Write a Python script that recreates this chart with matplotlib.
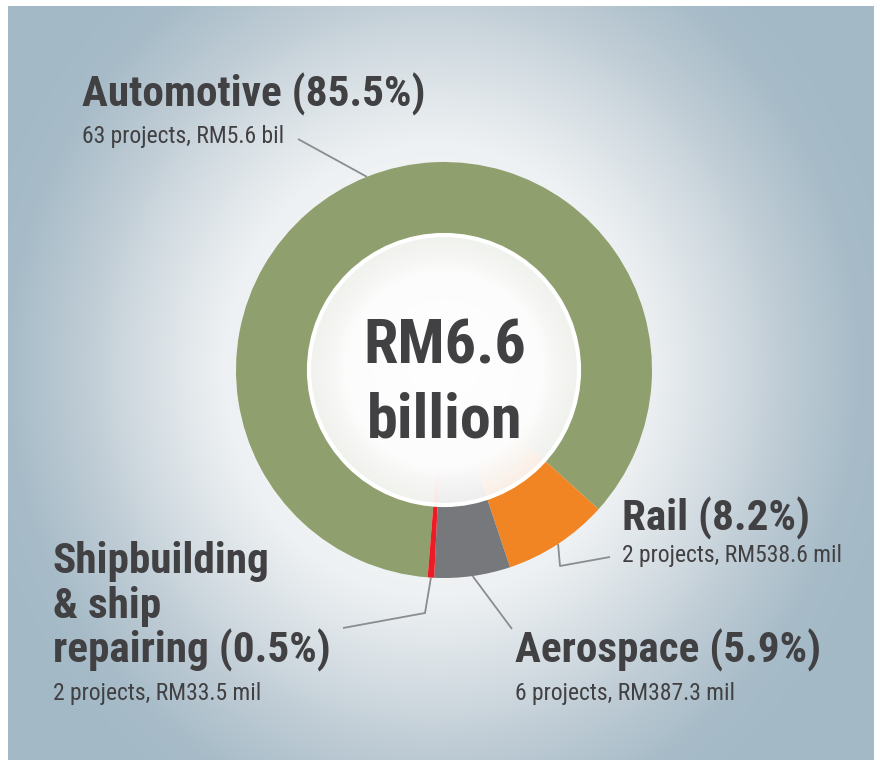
import numpy as np
import matplotlib
matplotlib.use('Agg')
import matplotlib.pyplot as plt
from matplotlib.patches import Circle
from matplotlib.colors import to_rgb
from matplotlib import font_manager as fm

# ---------------- data ----------------
sectors = ['Automotive', 'Rail', 'Aerospace', 'Shipbuilding\n& ship\nrepairing']
shares = [85.5, 8.2, 5.9, 0.5]
projects = [63, 2, 6, 2]
amounts = ['RM5.6 bil', 'RM538.6 mil', 'RM387.3 mil', 'RM33.5 mil']
total_label = ['RM6.6', 'billion']

# ---------------- style / layout ----------------
colors = ['#8F9F6E', '#F28523', '#77787B', '#ED1C24']
TEXT = '#414042'
LINE = '#8A8C8F'

W, H = 874, 760
fig = plt.figure(figsize=(W / 100, H / 100), dpi=100)
fig.patch.set_facecolor('white')
ax = fig.add_axes([0, 0, 1, 1])
renderer = fig.canvas.get_renderer()


# ---- choose the narrowest suitable installed font ----
def _w(f):
    w = f.weight
    if isinstance(w, str):
        w = fm.weight_dict.get(w, 400)
    return w


PREF = ['liberation sans narrow', 'roboto condensed', 'open sans condensed',
        'noto sans condensed', 'noto sans', 'dejavu sans condensed', 'dejavu sans',
        'open sans', 'roboto']


def pick_font(bold):
    best, best_score = None, None
    for f in fm.fontManager.ttflist:
        nm = f.name.lower()
        st = str(f.stretch).lower()
        cond = ('narrow' in nm or 'condensed' in nm or 'condensed' in st
                or 'narrow' in st)
        if not cond or f.style != 'normal':
            continue
        if 'extra' in st or 'ultra' in st or 'semi' in st:
            continue
        w = _w(f)
        if bold and w < 600:
            continue
        if not bold and not (350 <= w <= 450):
            continue
        rank = next((i for i, p in enumerate(PREF) if nm.startswith(p)), 50)
        score = (rank, abs(w - (700 if bold else 400)))
        if best_score is None or score < best_score:
            best, best_score = f, score
    if best is not None:
        return fm.FontProperties(fname=best.fname)
    fam = ['Roboto', 'Liberation Sans', 'DejaVu Sans']
    return fm.FontProperties(family=fam, weight='bold' if bold else 'normal')


FB = pick_font(True)
FR = pick_font(False)


def fit(strings, targets, prop, max_size):
    sizes = []
    for s, t in zip(strings, targets):
        p = prop.copy()
        p.set_size(100)
        w, _, _ = renderer.get_text_width_height_descent(s, p, ismath=False)
        sizes.append(100 * t / w)
    return min(max_size, float(np.median(sizes)))


def Y(y):
    return H - y


cx, cy = 444, 370
R_out, R_in = 208, 135

# background radial gradient (white strip on left and top)
yy, xx = np.mgrid[6:H, 8:W]
rr = np.hypot(xx + 0.5 - (cx - 10), (yy + 0.5 - cy) / 1.08)
stops_r = [0, 210, 280, 350, 425, 480]
stops_c = ['#FFFFFF', '#EEF1F3', '#D8E0E5', '#BFCCD5', '#A7BCC8', '#A3B9C6']
rgb = np.array([to_rgb(c) for c in stops_c])
bg = np.stack([np.interp(rr, stops_r, rgb[:, k]) for k in range(3)], axis=-1)
ax.imshow(bg, extent=[8, W, Y(H), Y(6)], origin='upper',
          interpolation='bilinear', zorder=0)

# donut
wedges, _ = ax.pie(shares, colors=colors, startangle=265.5, counterclock=False,
                   radius=R_out, center=(cx, Y(cy)), frame=True,
                   wedgeprops=dict(width=R_out - 60, edgecolor='none', linewidth=0))
for w in wedges:
    w.set_zorder(2)

# translucent white centre disc
n = 400
g = np.linspace(-R_in, R_in, n)
gx, gy = np.meshgrid(g, g)
rd = np.hypot(gx, gy)
ov = np.ones((n, n, 4))
ov[..., :3] = np.interp(rd, [0, R_in], [1.0, 0.985])[..., None]
ov[..., 3] = np.interp(rd, [0, 100, R_in], [1.0, 1.0, 0.9])
im = ax.imshow(ov, extent=[cx - R_in, cx + R_in, Y(cy) - R_in, Y(cy) + R_in],
               interpolation='bilinear', zorder=3)
im.set_clip_path(Circle((cx, Y(cy)), R_in, transform=ax.transData))
ax.add_patch(Circle((cx, Y(cy)), R_in, fill=False, edgecolor='white',
                    lw=3, zorder=4))

# label strings
titles = []
for i, name in enumerate(sectors):
    lines = name.split('\n')
    lines[-1] = f'{lines[-1]} ({shares[i]}%)'
    titles.append(lines)
subs = [f'{projects[i]} projects, {amounts[i]}' for i in range(len(sectors))]

# font sizes fitted to the reference text widths (px)
size_title = fit([t[-1] for t in titles], [352, 185, 299, 283], FB, 33)
size_sub = fit(subs, [202, 221, 223, 208], FR, 18)
size_center = fit(total_label, [160, 158], FB, 47)

# centre text
for txt, yb in zip(total_label, [363, 437]):
    p = FB.copy()
    p.set_size(size_center)
    ax.text(cx + 1, Y(yb), txt, ha='center', va='baseline', fontproperties=p,
            color=TEXT, zorder=5)

# labels
label_xy = [(82, 107), (622, 530), (515, 663), (53, 573)]
sub_xy = [(82, 143.5), (622, 562), (515, 700), (53, 700)]
line_gap = 45
pt = FB.copy()
pt.set_size(size_title)
ps = FR.copy()
ps.set_size(size_sub)
for i in range(len(sectors)):
    x0, y0 = label_xy[i]
    for j, ln in enumerate(titles[i]):
        ax.text(x0, Y(y0 + j * line_gap), ln, ha='left', va='baseline',
                fontproperties=pt, color=TEXT, zorder=5)
    sx, sy = sub_xy[i]
    ax.text(sx, Y(sy), subs[i], ha='left', va='baseline', fontproperties=ps,
            color=TEXT, zorder=5)

# leader lines: start on the ring at each wedge's mid-angle
elbows = [[(298, 139)], [(560, 566), (610, 557)], [(512, 629)],
          [(425, 613), (343, 628)]]
for w, pts in zip(wedges, elbows):
    mid = np.deg2rad((w.theta1 + w.theta2) / 2)
    px = [cx + R_out * np.cos(mid)] + [p[0] for p in pts]
    py = [Y(cy) + R_out * np.sin(mid)] + [Y(p[1]) for p in pts]
    ax.plot(px, py, color=LINE, lw=1.3, solid_capstyle='butt', zorder=1.5)

ax.set_xlim(0, W)
ax.set_ylim(0, H)
ax.set_aspect('equal')
ax.axis('off')

fig.savefig('out.png', dpi=100, facecolor='white')
